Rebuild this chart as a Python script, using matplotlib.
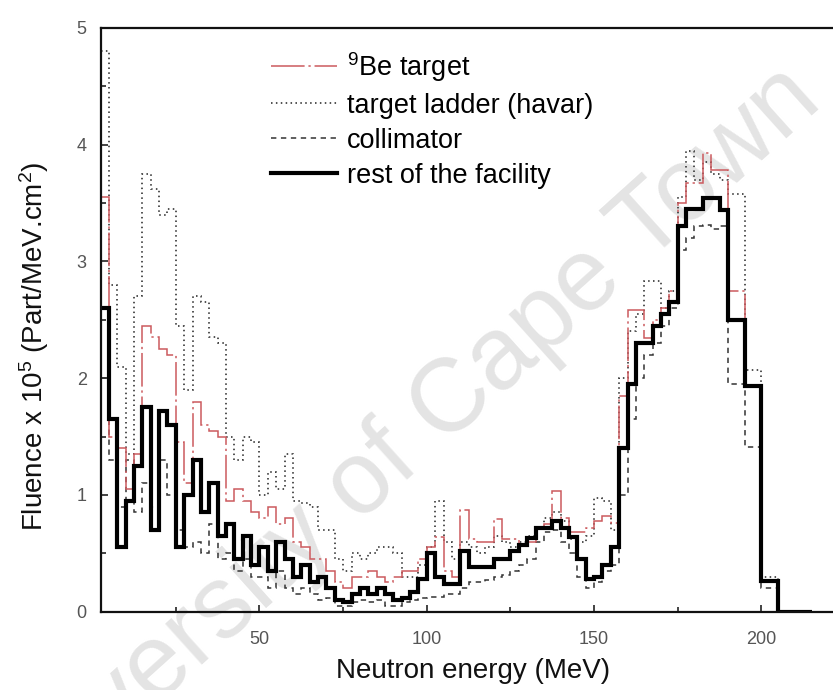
import numpy as np
import matplotlib
matplotlib.use("Agg")
import matplotlib.pyplot as plt
from matplotlib.lines import Line2D
from matplotlib.ticker import MultipleLocator

plt.rcParams['font.family'] = ['Liberation Sans', 'DejaVu Sans']
plt.rcParams['mathtext.fontset'] = 'custom'
plt.rcParams['mathtext.rm'] = 'Liberation Sans'
plt.rcParams['mathtext.it'] = 'Liberation Sans:italic'
plt.rcParams['mathtext.bf'] = 'Liberation Sans:bold'

# Neutron energy bins (MeV), 2.5 MeV wide
bin_width = 2.5
energy_edges = np.arange(2.5, 215.0 + bin_width / 2, bin_width)

# Fluence per bin (x 10^5 Part/MeV.cm^2)
be_target = [
    3.55, 1.50, 1.40, 1.05, 1.35, 2.45, 2.35, 2.25, 2.20, 1.45,
    1.10, 1.80, 1.60, 1.55, 1.50, 0.95, 1.05, 0.95, 0.85, 0.80,
    0.90, 0.75, 0.80, 0.60, 0.55, 0.45, 0.45, 0.35, 0.25, 0.20,
    0.30, 0.30, 0.35, 0.30, 0.25, 0.30, 0.35, 0.35, 0.45, 0.55,
    0.64, 0.35, 0.30, 0.87, 0.62, 0.60, 0.60, 0.79, 0.62, 0.62,
    0.58, 0.60, 0.72, 0.75, 1.03, 0.80, 0.68, 0.68, 0.72, 0.78,
    0.82, 0.76, 1.85, 2.58, 2.58, 2.34, 2.50, 2.60, 2.75, 3.50,
    3.67, 3.67, 3.93, 3.78, 3.78, 2.75, 2.75, 1.93, 1.93, 0.26,
    0.26, 0.00, 0.00, 0.00, 0.00,
]

target_ladder = [
    4.80, 2.80, 2.10, 1.35, 2.70, 3.75, 3.62, 3.40, 3.45, 2.45,
    1.90, 2.70, 2.65, 2.35, 2.30, 1.50, 1.30, 1.50, 1.45, 1.00,
    1.20, 1.05, 1.35, 0.95, 0.93, 0.90, 0.70, 0.70, 0.45, 0.35,
    0.50, 0.45, 0.50, 0.55, 0.55, 0.50, 0.30, 0.30, 0.40, 0.55,
    0.95, 0.60, 0.45, 0.60, 0.55, 0.50, 0.55, 0.65, 0.60, 0.55,
    0.60, 0.65, 0.72, 0.80, 0.85, 0.78, 0.62, 0.60, 0.65, 0.97,
    0.95, 0.70, 2.00, 2.40, 2.55, 2.83, 2.83, 2.60, 2.75, 3.55,
    3.95, 3.70, 3.85, 3.75, 3.70, 3.58, 3.58, 2.07, 2.07, 0.30,
    0.30, 0.00, 0.00, 0.00, 0.00,
]

collimator = [
    2.00, 1.30, 0.90, 1.30, 0.85, 1.10, 0.90, 1.30, 1.00, 0.70,
    0.55, 0.60, 0.50, 0.75, 0.45, 0.50, 0.35, 0.45, 0.30, 0.30,
    0.20, 0.35, 0.20, 0.15, 0.20, 0.15, 0.10, 0.12, 0.05, 0.05,
    0.08, 0.10, 0.08, 0.10, 0.05, 0.05, 0.08, 0.10, 0.12, 0.13,
    0.13, 0.15, 0.15, 0.20, 0.25, 0.25, 0.27, 0.30, 0.31, 0.35,
    0.40, 0.45, 0.60, 0.68, 0.70, 0.60, 0.50, 0.30, 0.20, 0.25,
    0.35, 0.40, 1.00, 1.65, 2.00, 2.20, 2.30, 2.45, 2.60, 3.10,
    3.20, 3.30, 3.31, 3.28, 3.30, 1.95, 1.95, 1.41, 1.41, 0.20,
    0.20, 0.00, 0.00, 0.00, 0.00,
]

rest_of_facility = [
    2.60, 1.65, 0.55, 0.95, 1.25, 1.75, 0.70, 1.72, 1.60, 0.55,
    1.00, 1.30, 0.85, 1.10, 0.65, 0.75, 0.45, 0.65, 0.40, 0.55,
    0.35, 0.60, 0.45, 0.30, 0.40, 0.25, 0.30, 0.20, 0.10, 0.08,
    0.15, 0.20, 0.15, 0.20, 0.15, 0.10, 0.12, 0.17, 0.28, 0.50,
    0.30, 0.24, 0.24, 0.52, 0.38, 0.38, 0.38, 0.45, 0.45, 0.52,
    0.57, 0.63, 0.72, 0.72, 0.78, 0.72, 0.64, 0.45, 0.28, 0.30,
    0.40, 0.55, 1.40, 1.95, 2.30, 2.30, 2.45, 2.55, 2.65, 3.30,
    3.45, 3.45, 3.54, 3.54, 3.44, 2.50, 2.50, 1.93, 1.93, 0.26,
    0.26, 0.00, 0.00, 0.00, 0.00,
]

labels = [r'$^{9}$Be target', 'target ladder (havar)', 'collimator',
          'rest of the facility']

x_ticks = [50, 100, 150, 200]
y_ticks = [0, 1, 2, 3, 4, 5]

red = '#cc5a5e'
style_be = dict(color=red, lw=1.1, ls=(0, (22, 2.5, 1.5, 2.5)))
style_ladder = dict(color='#222222', lw=1.1, ls=(0, (1, 2.2)))
style_coll = dict(color='#333333', lw=1.1, ls=(0, (3.5, 3)))
style_rest = dict(color='black', lw=3.0, ls='-')

fig = plt.figure(figsize=(8.33, 6.90), dpi=100)
ax = fig.add_axes([0.1207, 0.1135, 0.8938, 0.846])

# University watermark behind the curves
ax.text(395 / 833, 1 - 455 / 690, 'University of Cape Town',
        transform=fig.transFigure, fontsize=74, color='#e4e4e4',
        rotation=42, ha='center', va='center', rotation_mode='anchor',
        zorder=0.5, clip_on=False)

ax.stairs(collimator, energy_edges, baseline=None, zorder=2, **style_coll)
ax.stairs(target_ladder, energy_edges, baseline=None, zorder=2.1, **style_ladder)
ax.stairs(be_target, energy_edges, baseline=None, zorder=2.2, **style_be)
ax.stairs(rest_of_facility, energy_edges, baseline=None, zorder=2.3, **style_rest)

ax.set_xlim(2.5, 225)
ax.set_ylim(0, 5)
ax.set_xticks(x_ticks)
ax.set_yticks(y_ticks)
ax.xaxis.set_minor_locator(MultipleLocator(25))
ax.yaxis.set_minor_locator(MultipleLocator(0.5))
ax.tick_params(which='both', direction='in', width=1.2, colors='#222222',
               labelcolor='#555555', labelsize=13)
ax.tick_params(which='major', length=5)
ax.tick_params(which='minor', length=3.5)
ax.tick_params(axis='x', pad=14)
ax.tick_params(axis='y', pad=10)
for sp in ax.spines.values():
    sp.set_linewidth(1.6)
    sp.set_color('#111111')

ax.set_xlabel('Neutron energy (MeV)', fontsize=20, color='#111111')
ax.xaxis.set_label_coords(0.5, -0.08)
ax.set_ylabel(r'Fluence x 10$^{5}$ (Part/MeV.cm$^{2}$)', fontsize=20,
              color='#111111')
ax.yaxis.set_label_coords(-0.066, 0.454)

handles = [Line2D([], [], **style_be), Line2D([], [], **style_ladder),
           Line2D([], [], **style_coll), Line2D([], [], **style_rest)]
ax.legend(handles, labels, loc='upper left',
          bbox_to_anchor=(271 / 833, 1 - 50 / 690),
          bbox_transform=fig.transFigure, frameon=False, fontsize=19.5,
          borderpad=0, borderaxespad=0, handlelength=2.45,
          handletextpad=0.35, labelspacing=0.33)

fig.savefig('out.png', dpi=100)
